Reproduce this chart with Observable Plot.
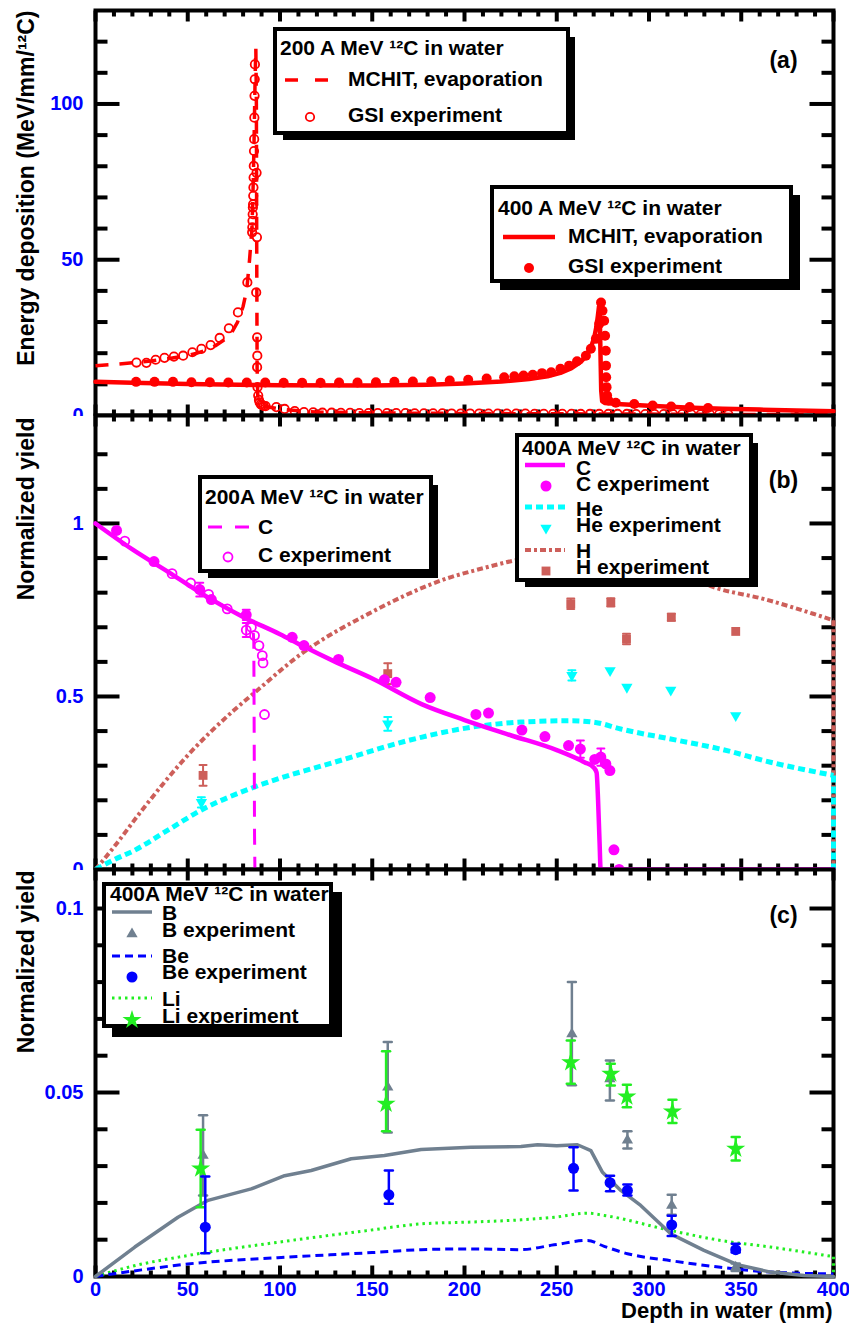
<!DOCTYPE html>
<html>
<head>
<meta charset="utf-8">
<script src="https://cdn.jsdelivr.net/npm/d3@7"></script>
<script src="https://cdn.jsdelivr.net/npm/@observablehq/plot@0.6"></script>
<style>
  html, body { margin: 0; padding: 0; background: #fff; }
  #chart { position: relative; width: 849px; height: 1323px; overflow: hidden; background: #fff; }
  #chart > svg { position: absolute; left: 0; }
</style>
</head>
<body>
<div id="chart"></div>
<script>
// ---------------- (a) energy deposition per 12C ----------------
// MCHIT, 200 A MeV (depth mm, MeV/mm)
const mchit200 = [[0,16.0],[10,16.4],[20,16.9],[30,17.5],[40,18.3],[50,19.3],[55,20.0],[60,21.0],[65,22.4],[70,24.4],[74,26.8],[77,30.0],[80,35.0],[82,40.5],[83.5,50],[84.8,60],[85.5,75],[86.0,90],[86.5,108],[86.9,118],[87.2,100],[87.4,50],[87.6,15],[88.0,5.0],[89,3.4],[92,2.9],[96,2.5],[100,2.1],[110,1.5],[120,1.1],[140,0.9],[170,0.75],[200,0.65],[250,0.55],[300,0.45],[350,0.35],[400,0.3]];
// GSI experiment, 200 A MeV
const gsi200 = [[22.2,17.0],[27.6,16.9],[32.6,17.9],[37.4,18.5],[42.5,18.9],[47.5,19.2],[52.5,20.3],[57.4,21.4],[62.4,22.6],[67.3,24.9],[72.3,28.0],[77.2,33.1],[82.3,42.7],
  [84.9,58.8],[85.0,60.4],[85.1,62.5],[85.2,64.6],[85.3,66.8],[85.4,67.8],[85.5,70.5],[85.6,73.2],[85.7,76.4],[85.8,80.1],[85.9,84.9],[86.0,88.7],[86.1,95.6],[86.2,102.6],[86.3,107.9],[86.4,112.7],
  [87.3,77.9],[87.5,57.2],[87.1,39.5],[87.6,25.1],[87.7,19.2],[87.6,15.5],[87.8,9.1],[88.2,6.4],[88.6,5.0],[89.0,4.2],[89.6,3.6],[90.3,3.3],[91.2,3.1],[92.2,3.0],
  [98,2.7],[102.5,2.1],[108,1.4],[113,1.1],[118,1.0],[123,0.9],[128,0.9],[133,0.85],[138,0.85],[143,0.8],[148,0.8],[153,0.8],[158,0.75],[163,0.75],[168,0.75],[173,0.7],[178,0.7],[183,0.7],[188,0.7],[193,0.65],[198,0.65],[203,0.65],[208,0.65],[213,0.6],[218,0.6],[223,0.6],[228,0.6],[233,0.6],[238,0.55],[243,0.55],[248,0.55],[253,0.55],[258,0.55],[263,0.5],[268,0.5],[273,0.5],[278,0.5],[283,0.5],[288,0.5],[293,0.45],[298,0.45],[303,0.45],[308,0.45],[313,0.45],[318,0.45],[323,0.4],[328,0.4],[333,0.4],[338,0.4],[343,0.4]];
// MCHIT, 400 A MeV
const mchit400 = [[0,10.8],[20,10.5],[50,10.1],[100,9.7],[150,9.6],[180,9.9],[200,10.3],[220,10.9],[235,11.7],[245,12.6],[252,13.7],[258,15.2],[263,17.2],[266,19.2],[268.5,21.8],[270.3,25],[271.5,28.5],[272.3,32],[272.9,35],[273.3,33],[273.7,20],[274.1,8],[274.6,4.6],[276,4.0],[285,3.6],[300,3.1],[320,2.6],[340,2.2],[360,1.9],[380,1.6],[400,1.4]];
// GSI experiment, 400 A MeV
const gsi400 = [[22,10.8],[32,10.8],[42,10.8],[52,10.7],[62,10.7],[72,10.6],[82,10.6],[92,10.6],[102,10.5],[112,10.5],[122,10.5],[132,10.6],[142,10.6],[152,10.7],[162,10.8],[172,10.9],[182,11.0],[192,11.2],[202,11.5],[212,11.9],[221.5,12.3],[227,12.6],[232,12.8],[237,13.1],[242,13.6],[247,13.9],[252,15.0],[256.7,16.0],[261,17.4],[265.8,19.2],[268.5,21.4],[271.2,24.6],[273,29.4],[274,36.3],[274.8,33.6],[275.7,30.4],[276.2,25.6],[276.6,20.8],[276.7,16.0],[276.8,12.3],[277,9.1],[277.3,6.4],[278,4.8],[282,4.1],[292,3.7],[302,3.2],[312,2.9],[322,2.7],[332,2.4]];

// ---------------- (b) C, He, H yields ----------------
const c400 = [[0,1.0],[20,0.925],[40,0.858],[57.4,0.798],[80,0.73],[100,0.68],[111.6,0.648],[130,0.6],[150,0.552],[176.7,0.478],[200,0.432],[225,0.388],[250,0.345],[265,0.31],[270,0.295],[271.6,0.28],[272.4,0.2],[273.2,0.08],[273.8,0],[400,0]];
const c200 = [[0,1.0],[20,0.925],[40,0.858],[57.4,0.798],[70,0.76],[80,0.73],[85.2,0.712],[85.8,0.66],[86.0,0.4],[86.2,0.1],[86.4,0],[400,0]];
const he400 = [[0,0],[10,0.028],[21,0.055],[39,0.113],[57.4,0.172],[87,0.24],[129.5,0.31],[176.5,0.382],[203.5,0.411],[230.6,0.426],[257.6,0.43],[271,0.425],[284.7,0.406],[311.8,0.377],[338.8,0.348],[365.9,0.31],[400,0.272],[400,0]];
const h400 = [[0,0],[10,0.065],[25,0.17],[50,0.33],[75,0.46],[86,0.51],[111.5,0.623],[147.6,0.738],[192.7,0.845],[208.9,0.869],[227,0.893],[250,0.912],[270,0.92],[290,0.91],[310,0.875],[335,0.816],[362,0.782],[389,0.739],[400,0.72],[400,0]];
// experiments: [depth, yield, error]
const cExp400 = [[11.4,0.98,0],[31.7,0.89,0],[56.5,0.809,0.02],[62.8,0.78,0],[81.7,0.736,0.015],[106.6,0.671,0],[113,0.647,0],[131.7,0.607,0],[156.6,0.548,0],[162.9,0.541,0],[181.4,0.497,0],[206.2,0.448,0],[213,0.452,0],[231.1,0.403,0],[243.6,0.384,0],[256.4,0.358,0],[262.8,0.348,0.025],[270.6,0.318,0],[273.9,0.325,0.025],[276.6,0.305,0],[278.8,0.286,0],[281,0.057,0],[283.8,0.0,0]];
const cExp200 = [[15.9,0.949,0],[41.5,0.855,0],[51.6,0.828,0],[61.3,0.795,0],[71.4,0.753,0],[81.7,0.692,0.02],[84.5,0.70,0],[86.2,0.676,0],[88.6,0.647,0],[90.4,0.618,0],[90.8,0.597,0],[91.6,0.448,0]];
const heExp = [[57.4,0.194,0.015],[158.4,0.421,0.02],[258.2,0.561,0.015],[278.9,0.575,0],[288,0.527,0],[311.8,0.519,0],[347,0.445,0]];
const hExp = [[58.3,0.272,0.03],[158.4,0.566,0.03],[257.6,0.768,0.015],[279.3,0.772,0.012],[287.8,0.666,0.015],[312.1,0.729,0.01],[347,0.688,0]];

// ---------------- (c) B, Be, Li yields ----------------
const bLine = [[0,0],[21.3,0.008],[44.7,0.0161],[61,0.0207],[84.4,0.0238],[102.5,0.0274],[116.9,0.0288],[138.6,0.032],[156.6,0.0329],[176.5,0.0345],[203.5,0.0351],[230.6,0.0353],[239.6,0.0358],[250,0.0355],[261.2,0.0358],[268.5,0.0342],[274.8,0.0283],[284.7,0.0234],[295.5,0.0193],[311.8,0.0116],[329.8,0.0071],[347.9,0.0032],[365.9,0.0012],[384,0.0003],[400,0]];
const beLine = [[0,0],[25,0.0018],[50,0.0034],[98.8,0.0051],[150,0.0065],[176.5,0.0073],[203.5,0.0075],[230.6,0.0073],[248.6,0.0086],[266.7,0.0098],[275.7,0.0082],[288.3,0.0062],[311.8,0.0043],[338.8,0.0025],[365.9,0.0012],[400,0.0007]];
const liLine = [[0,0],[20,0.0028],[50,0.0057],[98.8,0.0093],[147.6,0.0125],[176.5,0.0143],[203.5,0.0148],[230.6,0.0154],[248.6,0.0161],[266.7,0.0172],[275.7,0.0166],[311.8,0.0125],[338.8,0.0098],[365.9,0.008],[400,0.0054],[400,0]];
// experiments: [depth, yield, low, high]
const bExp = [[58.3,0.0329,0.022,0.0438],[158.4,0.0514,0.0391,0.0637],[258.2,0.0659,0.052,0.08],[278.8,0.0537,0.0478,0.0587],[288.3,0.037,0.0348,0.0395],[312.3,0.0193,0.0168,0.0222],[347,0.0025,0.0015,0.0035]];
const beExp = [[59.5,0.0134,0.0063,0.0272],[159,0.0222,0.0198,0.0288],[259.1,0.0294,0.0234,0.0351],[278.9,0.0255,0.0232,0.0274],[288.3,0.0234,0.022,0.025],[312.3,0.014,0.011,0.0165],[347,0.0073,0.0065,0.0089]];
const liExp = [[57,0.0293,0.0188,0.0399],[157.5,0.0469,0.0395,0.0612],[257.6,0.0582,0.0524,0.0641],[279.3,0.0551,0.0519,0.0578],[288,0.0489,0.046,0.0521],[312.7,0.0448,0.0417,0.048],[347,0.0347,0.0315,0.0379]];

// ---------------- axes ----------------
const xMajor = [0, 50, 100, 150, 200, 250, 300, 350, 400];
const xMinor = d3.range(10, 400, 10).filter(d => d % 50 !== 0);
const yMajorA = [50, 100], yMinorA = [10, 20, 30, 40, 60, 70, 80, 90, 110, 120], yLabelsA = [0, 50, 100];
const yMajorB = [0.5, 1], yMinorB = [0.1, 0.2, 0.3, 0.4, 0.6, 0.7, 0.8, 0.9, 1.1, 1.2], yLabelsB = [0, 0.5, 1];
const yMajorC = [0.05, 0.1], yMinorC = [0.01, 0.02, 0.03, 0.04, 0.06, 0.07, 0.08, 0.09], yLabelsC = [0, 0.05, 0.1];

const RED = "#ff0000", MAG = "#ff00ff", CYAN = "#00ffff", BROWN = "#cd5f5a",
      SLATE = "#708090", BLUE = "#0000ff", GREEN = "#22ee22", LABEL = "#0000ff";
const FONT = "'Liberation Sans', Arial, Helvetica, sans-serif";

const px = d => d[0], py = d => d[1];
const tickShape = {draw(ctx, l) { ctx.moveTo(0, 0); ctx.lineTo(0, -l); }};
const capShape = {draw(ctx, l) { ctx.moveTo(-l / 2, 0); ctx.lineTo(l / 2, 0); }};

// frame with inward ticks on all four sides
function frameMarks(y0, y1, yMajor, yMinor) {
  const t = {shape: tickShape, anchor: "start", stroke: "black", strokeWidth: 4, strokeLinecap: "butt"};
  return [
    Plot.frame({fill: "white", stroke: "black", strokeWidth: 4}),
    Plot.vector(xMajor, {...t, x: d => d, y: () => y0, rotate: 0, length: 11}),
    Plot.vector(xMinor, {...t, x: d => d, y: () => y0, rotate: 0, length: 6}),
    Plot.vector(xMajor, {...t, x: d => d, y: () => y1, rotate: 180, length: 11}),
    Plot.vector(xMinor, {...t, x: d => d, y: () => y1, rotate: 180, length: 6}),
    Plot.vector(yMajor, {...t, x: () => 0, y: d => d, rotate: 90, length: 24}),
    Plot.vector(yMinor, {...t, x: () => 0, y: d => d, rotate: 90, length: 12}),
    Plot.vector(yMajor, {...t, x: () => 400, y: d => d, rotate: -90, length: 24}),
    Plot.vector(yMinor, {...t, x: () => 400, y: d => d, rotate: -90, length: 12})
  ];
}
// a smooth curve; a closing vertical drop at the edge stays straight
function curve(data, style) {
  const last = data[data.length - 1], prev = data[data.length - 2];
  const drop = last[0] === prev[0];
  const body = drop ? data.slice(0, -1) : data;
  const marks = [Plot.line(body, {x: px, y: py, curve: "monotone-x", strokeLinecap: "butt", ...style})];
  if (drop) marks.push(Plot.line(data.slice(-2), {x: px, y: py, strokeLinecap: "butt", ...style}));
  return marks;
}
function yLabels(values) {
  return Plot.text(values, {x: () => 0, y: d => d, text: d => String(d), dx: -12, textAnchor: "end",
    lineAnchor: "middle", fill: LABEL, fontSize: 20, fontWeight: "bold"});
}
function yTitle(s, dy) {
  return Plot.text([s], {text: d => d, frameAnchor: "top-left", rotate: -90, textAnchor: "end",
    lineAnchor: "middle", dx: -69, dy, fontSize: 23, fontWeight: "bold", fill: "black"});
}
function panelTag(s, dy) {
  return Plot.text([s], {text: d => d, frameAnchor: "top-right", textAnchor: "middle", lineAnchor: "middle",
    dx: -50, dy, fontSize: 23, fontWeight: "bold", fill: "black"});
}
function errBars(data, lo, hi, color, w, cap) {
  return [
    Plot.ruleX(data, {x: px, y1: lo, y2: hi, stroke: color, strokeWidth: w}),
    Plot.vector(data, {x: px, y: lo, length: cap, shape: capShape, anchor: "start", stroke: color, strokeWidth: w}),
    Plot.vector(data, {x: px, y: hi, length: cap, shape: capShape, anchor: "start", stroke: color, strokeWidth: w})
  ];
}
const withErr = data => data.filter(d => d[2] > 0);

const chart = document.getElementById("chart");
function panel(top, height, marginTop, marginBottom, yDomain, marks) {
  const svg = Plot.plot({
    width: 849, height, marginLeft: 95, marginRight: 16, marginTop, marginBottom,
    x: {domain: [0, 400], axis: null},
    y: {domain: yDomain, axis: null},
    style: {fontFamily: FONT, fontWeight: "bold", background: "transparent", overflow: "hidden"},
    marks
  });
  svg.style.top = top + "px";
  chart.appendChild(svg);
}

// (a) energy deposition
panel(0, 416, 10, 1, [0, 130], [
  ...frameMarks(0, 130, yMajorA, yMinorA),
  Plot.line(mchit200, {x: px, y: py, stroke: RED, strokeWidth: 3.5, strokeDasharray: "13,11", strokeLinecap: "butt"}),
  Plot.line(mchit400, {x: px, y: py, stroke: RED, strokeWidth: 4.5}),
  Plot.dot(gsi200, {x: px, y: py, r: 4.2, stroke: RED, strokeWidth: 1.8, fill: "none"}),
  Plot.dot(gsi400, {x: px, y: py, r: 5, fill: RED}),
  yLabels(yLabelsA),
  yTitle("Energy deposition (MeV/mm/\u00b9\u00b2C)", 0),
  panelTag("(a)", 50)
]);

// (b) C, He, H
const eLo = d => d[1] - d[2], eHi = d => d[1] + d[2];
panel(405, 465, 10, 1, [0, 1.312], [
  ...frameMarks(0, 1.312, yMajorB, yMinorB),
  ...curve(h400, {stroke: BROWN, strokeWidth: 4, strokeDasharray: "6,3,3,3"}),
  ...curve(he400, {stroke: CYAN, strokeWidth: 5, strokeDasharray: "7,4"}),
  Plot.line(c200, {x: px, y: py, stroke: MAG, strokeWidth: 3, strokeDasharray: "16,12", strokeLinecap: "butt"}),
  Plot.line(c400, {x: px, y: py, curve: "monotone-x", stroke: MAG, strokeWidth: 4.5}),
  ...errBars(withErr(hExp), eLo, eHi, BROWN, 2, 7),
  Plot.dot(hExp, {x: px, y: py, symbol: "square", r: 5, fill: BROWN}),
  ...errBars(withErr(heExp), eLo, eHi, CYAN, 2, 7),
  Plot.dot(heExp, {x: px, y: py, symbol: "triangle", rotate: 180, r: 4.2, fill: CYAN}),
  ...errBars(withErr(cExp400), eLo, eHi, MAG, 2, 7),
  Plot.dot(cExp400, {x: px, y: py, r: 5.5, fill: MAG}),
  ...errBars(withErr(cExp200), eLo, eHi, MAG, 2, 7),
  Plot.dot(cExp200, {x: px, y: py, r: 4.5, stroke: MAG, strokeWidth: 1.8, fill: "none"}),
  yLabels(yLabelsB),
  yTitle("Normalized yield", 2),
  panelTag("(b)", 65)
]);

// (c) B, Be, Li
const cLo = d => d[2], cHi = d => d[3];
panel(859, 464, 10, 47, [0, 0.1106], [
  ...frameMarks(0, 0.1106, yMajorC, yMinorC),
  ...curve(liLine, {stroke: GREEN, strokeWidth: 3, strokeDasharray: "2.5,4"}),
  ...curve(beLine, {stroke: BLUE, strokeWidth: 3, strokeDasharray: "8,5"}),
  Plot.line(bLine, {x: px, y: py, stroke: SLATE, strokeWidth: 3.5}),
  ...errBars(bExp, cLo, cHi, SLATE, 2.5, 8),
  Plot.dot(bExp, {x: px, y: py, symbol: "triangle", r: 4.2, fill: SLATE}),
  ...errBars(liExp, cLo, cHi, GREEN, 2.5, 8),
  Plot.dot(liExp, {x: px, y: py, symbol: "star", r: 6, fill: GREEN}),
  ...errBars(beExp, cLo, cHi, BLUE, 2.5, 8),
  Plot.dot(beExp, {x: px, y: py, r: 5.5, fill: BLUE}),
  yLabels(yLabelsC),
  Plot.text(xMajor, {x: d => d, y: () => 0, text: d => String(d), dy: 13, lineAnchor: "middle",
    textAnchor: "middle", fill: LABEL, fontSize: 20, fontWeight: "bold"}),
  yTitle("Normalized yield", 1),
  panelTag("(c)", 46),
  Plot.text(["Depth in water (mm)"], {text: d => d, frameAnchor: "bottom-right", textAnchor: "end",
    lineAnchor: "middle", dx: -1, dy: 34, fontSize: 22, fontWeight: "bold", fill: "black"})
]);

// ---------------- legend boxes ----------------
const ov = d3.select(chart).append("svg")
  .attr("width", 849).attr("height", 1323)
  .style("top", "0px").style("font-family", FONT).style("font-weight", "bold");

function box(x0, y0, x1, y1, sh) {
  ov.append("rect").attr("x", x0 + 10).attr("y", y0 + 10)
    .attr("width", x1 - x0 - 10 + sh).attr("height", y1 - y0 - 10 + sh).attr("fill", "#000");
  ov.append("rect").attr("x", x0 + 2).attr("y", y0 + 2)
    .attr("width", x1 - x0 - 4).attr("height", y1 - y0 - 4)
    .attr("fill", "#fff").attr("stroke", "#000").attr("stroke-width", 4);
}
function txt(x, y, s) {
  ov.append("text").attr("x", x).attr("y", y).attr("dy", "0.35em").attr("font-size", 21).attr("fill", "#000").text(s);
}
function swLine(x0, x1, y, color, w, dash) {
  ov.append("line").attr("x1", x0).attr("x2", x1).attr("y1", y).attr("y2", y)
    .attr("stroke", color).attr("stroke-width", w).attr("stroke-dasharray", dash || null);
}
function swSym(x, y, sym, r, color, open = false, rotate = 0) {
  ov.append("path").attr("d", d3.symbol(sym, Math.PI * r * r)())
    .attr("transform", `translate(${x},${y}) rotate(${rotate})`)
    .attr("fill", open ? "none" : color).attr("stroke", open ? color : "none").attr("stroke-width", open ? 1.8 : 0);
}

// (a) 200 A MeV
box(273, 27, 570, 135, 5);
txt(280, 48, "200 A MeV \u00b9\u00b2C in water");
swLine(285, 328, 80, RED, 3.5, "13,17"); txt(348, 79, "MCHIT, evaporation");
swSym(310, 117, d3.symbolCircle, 4.2, RED, true); txt(348, 115, "GSI experiment");
// (a) 400 A MeV
box(490, 185, 793, 283, 7);
txt(498, 208, "400 A MeV \u00b9\u00b2C in water");
swLine(503, 555, 237, RED, 4.5); txt(568, 236, "MCHIT, evaporation");
swSym(529, 268, d3.symbolCircle, 5, RED); txt(568, 266, "GSI experiment");
// (b) 200A
box(198, 475, 433, 573, 5);
txt(205, 497, "200A MeV \u00b9\u00b2C in water");
swLine(208, 250, 527, MAG, 3, "14,13"); txt(258, 527, "C");
swSym(228, 557, d3.symbolCircle, 4.5, MAG, true); txt(258, 555, "C experiment");
// (b) 400A
box(515, 433, 753, 582, 5);
txt(522, 448, "400A MeV \u00b9\u00b2C in water");
swLine(525, 565, 465, MAG, 4.5); txt(576, 468, "C");
swSym(546, 486, d3.symbolCircle, 5.5, MAG); txt(576, 484, "C experiment");
swLine(525, 565, 507, CYAN, 5, "7,4"); txt(576, 509, "He");
swSym(546, 528, d3.symbolTriangle, 4.2, CYAN, false, 180); txt(576, 525, "He experiment");
swLine(525, 565, 550, BROWN, 4, "6,3,3,3"); txt(576, 551, "H");
swSym(546, 571, d3.symbolSquare, 5, BROWN); txt(576, 567, "H experiment");
// (c) 400A
box(102, 882, 333, 1028, 9);
txt(110, 894, "400A MeV \u00b9\u00b2C in water");
swLine(112, 152, 912, SLATE, 3.5); txt(162, 913, "B");
swSym(132, 934, d3.symbolTriangle, 4.2, SLATE); txt(162, 930, "B experiment");
swLine(112, 152, 956, BLUE, 3, "8,5"); txt(162, 956, "Be");
swSym(132, 977, d3.symbolCircle, 5.5, BLUE); txt(162, 972, "Be experiment");
swLine(112, 152, 998, GREEN, 3, "2.5,4"); txt(162, 999, "Li");
swSym(132, 1020, d3.symbolStar, 6, GREEN); txt(162, 1016, "Li experiment");
</script>
</body>
</html>
